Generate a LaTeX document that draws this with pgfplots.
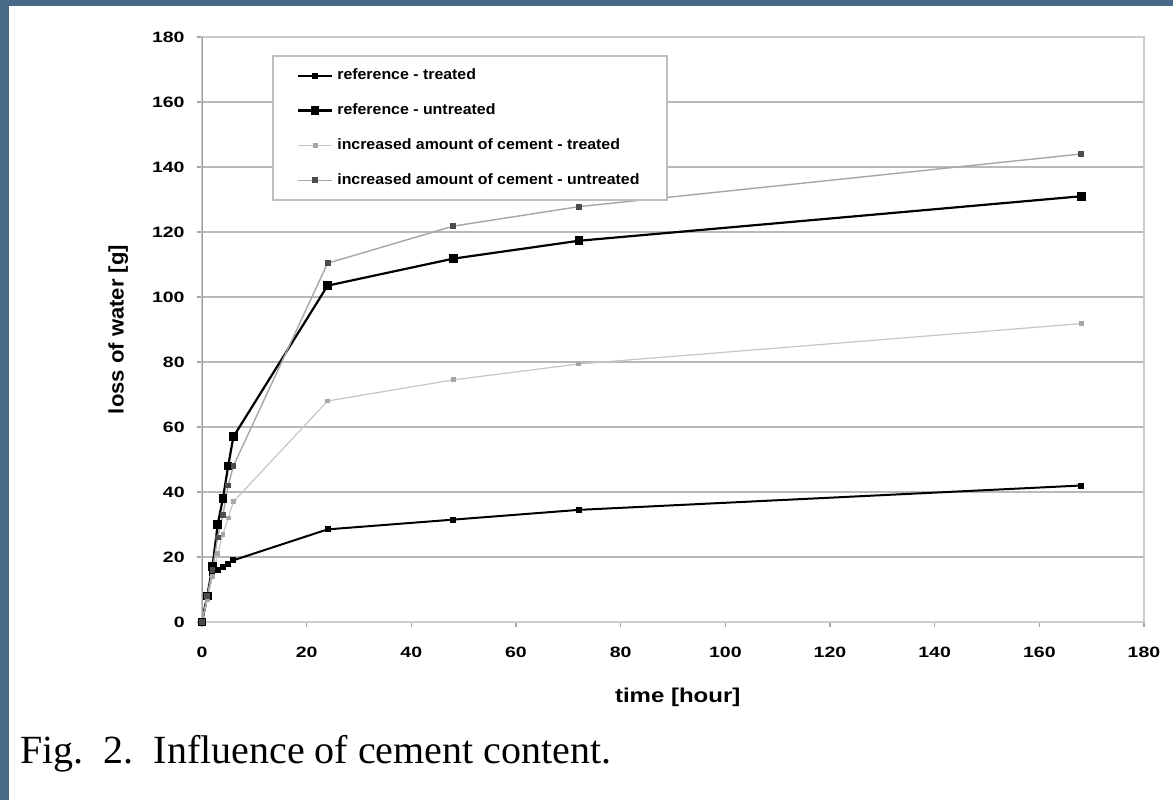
\documentclass[border=0pt]{standalone}
\usepackage{fontspec}
\setmainfont{Liberation Sans}
\newfontfamily\capfont{Liberation Serif}
\usepackage{pgfplots}
\pgfplotsset{compat=1.18}
\definecolor{frameblue}{RGB}{72,105,135}
\begin{document}
\begin{tikzpicture}
\fill[white] (0pt,0pt) rectangle (586.5pt,400pt);
\fill[frameblue] (0pt,0pt) rectangle (4.5pt,400pt);
\fill[frameblue] (0pt,397pt) rectangle (586.5pt,400pt);
\begin{axis}[
  at={(101pt,89pt)}, anchor=south west,
  scale only axis, width=471pt, height=292.5pt,
  xmin=0, xmax=180, ymin=0, ymax=180,
  xtick={0,20,...,180}, ytick={0,20,...,180},
  ymajorgrids, grid style={gray!55, line width=0.9pt},
  axis line style={gray!40, line width=0.8pt},
  xtick pos=left, ytick pos=left, tick align=outside,
  major tick length=2.5pt, tick style={gray!70, line width=0.7pt},
  /pgf/number format/assume math mode=true,
  font=\bfseries\fontsize{7.5}{8}\selectfont,
  xticklabel={\scalebox{1.3}[1]{\pgfmathprintnumber{\tick}}},
  yticklabel={\scalebox{1.3}[1]{\pgfmathprintnumber{\tick}}},
  xticklabel style={inner sep=0pt, yshift=-10pt},
  yticklabel style={inner sep=0pt, xshift=-6pt},
  xlabel={\scalebox{1.2}[1]{time [hour]}}, ylabel={\scalebox{1.05}[1]{loss of water [g]}},
  every axis x label/.style={at={(axis description cs:0.505,-0.128)}, anchor=center},
  every axis y label/.style={at={(axis description cs:-0.089,0.5)}, anchor=center, rotate=90},
  label style={font=\bfseries\fontsize{10}{12}\selectfont},
  ylabel style={font=\bfseries\fontsize{10.5}{12}\selectfont},
  legend style={at={(0.0743,0.969)}, anchor=north west, draw=gray!50, line width=1pt,
    font=\bfseries\fontsize{7.5}{8}\selectfont, row sep=6.5pt, inner xsep=12pt, inner ysep=4.3pt},
  legend cell align=left,
]
\addplot[black, line width=1pt, mark=square*, mark size=1pt] coordinates {
(0,0) (1,8) (2,15) (3,16) (4,17) (5,18) (6,19) (24,28.5) (48,31.5) (72,34.5) (168,42)};
\addlegendentry{\scalebox{1.06}[1]{reference - treated}}
\addplot[black, line width=1.1pt, mark=square*, mark size=1.6pt] coordinates {
(0,0) (1,8) (2,17) (3,30) (4,38) (5,48) (6,57) (24,103.5) (48,111.8) (72,117.3) (168,131)};
\addlegendentry{\scalebox{1.06}[1]{reference - untreated}}
\addplot[gray!45, line width=0.6pt, mark=square*, mark size=0.9pt, mark options={fill=gray!70, draw=gray!70}] coordinates {
(0,0) (1,7) (2,14) (3,21) (4,27) (5,32) (6,37) (24,68) (48,74.5) (72,79.4) (168,91.8)};
\addlegendentry{\scalebox{1.06}[1]{increased amount of cement - treated}}
\addplot[gray!70, line width=0.7pt, mark=square*, mark size=1.1pt, mark options={fill=black!70, draw=black!70}] coordinates {
(0,0) (1,8) (2,16) (3,26) (4,33) (5,42) (6,48) (24,110.4) (48,121.8) (72,127.8) (168,144)};
\addlegendentry{\scalebox{1.06}[1]{increased amount of cement - untreated}}
\draw[gray!80, line width=0.9pt] (rel axis cs:0,0) -- (rel axis cs:0,1);
\end{axis}
\node[anchor=base west, inner sep=0pt, font=\capfont\fontsize{20}{24}\selectfont] at (10pt,18.5pt) {Fig.\ \ 2.\ \ Influence of cement content.};
\end{tikzpicture}
\end{document}
